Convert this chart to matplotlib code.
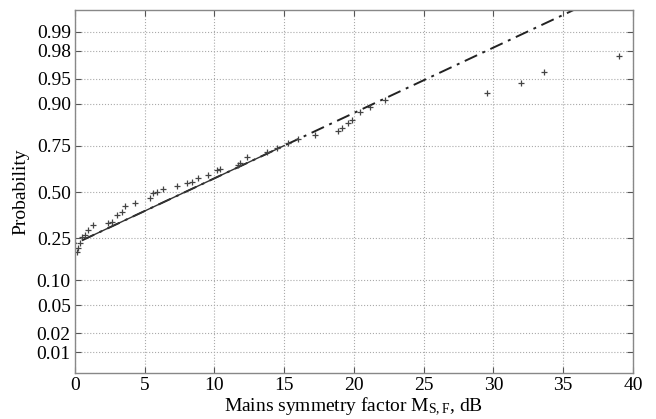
import numpy as np
import matplotlib
matplotlib.use("Agg")
import matplotlib.pyplot as plt
from statistics import NormalDist

plt.rcParams["font.family"] = ["Liberation Serif", "DejaVu Serif"]
plt.rcParams["mathtext.fontset"] = "custom"
plt.rcParams["mathtext.rm"] = "Liberation Serif"
plt.rcParams["mathtext.it"] = "Liberation Serif:italic"

# Data
msf_db = [0.12, 0.24, 0.36, 0.48, 0.72, 0.95, 1.31, 2.39, 2.63, 2.99,
          3.35, 3.58, 4.30, 5.38, 5.61, 5.86, 6.33, 7.29, 8.00, 8.37,
          8.84, 9.56, 10.16, 10.39, 11.70, 11.83, 12.30, 13.74, 14.46, 15.29,
          16.00, 17.20, 18.87, 19.12, 19.60, 19.84, 20.43, 21.15, 22.20, 29.56,
          31.97, 33.60, 39.00]
prob = [0.192, 0.209, 0.230, 0.258, 0.268, 0.291, 0.316, 0.326, 0.334, 0.371,
        0.386, 0.417, 0.436, 0.464, 0.492, 0.500, 0.516, 0.536, 0.552, 0.560,
        0.583, 0.599, 0.626, 0.633, 0.652, 0.663, 0.695, 0.722, 0.739, 0.761,
        0.779, 0.797, 0.811, 0.824, 0.841, 0.853, 0.879, 0.893, 0.910, 0.925,
        0.943, 0.959, 0.976]

# reference line through the quartiles
q1_x, q3_x = 0.8, 15.0

yticks = [0.01, 0.02, 0.05, 0.10, 0.25, 0.50, 0.75, 0.90, 0.95, 0.98, 0.99]
xticks = [0, 5, 10, 15, 20, 25, 30, 35, 40]

nd = NormalDist()
z = np.array([nd.inv_cdf(p) for p in prob])
zq1, zq3 = nd.inv_cdf(0.25), nd.inv_cdf(0.75)
slope = (zq3 - zq1) / (q3_x - q1_x)

fig = plt.figure(figsize=(6.56, 4.19), dpi=100)
ax = fig.add_axes([0.1143, 0.1098, 0.8506, 0.8663])

# extended fit (dash-dot) and solid part between quartiles
xl = np.array([-5, 45])
ax.plot(xl, zq1 + slope * (xl - q1_x), color="#222222", lw=1.4, ls="-.", dashes=(7, 3, 1.5, 3))
ax.plot([q1_x, q3_x], [zq1, zq3], color="#333333", lw=1.0)
ax.plot(msf_db, z, ls="none", marker="+", ms=5, mew=0.9, color="#444444")

ax.set_xlim(0, 40)
ax.set_ylim(-2.63, 2.645)
ax.set_xticks(xticks)
ax.set_yticks([nd.inv_cdf(p) for p in yticks])
ax.set_yticklabels(["%.2f" % p for p in yticks])

ax.grid(True, ls=":", color="#aaaaaa", lw=0.8)
ax.tick_params(direction="in", top=True, right=True, labelsize=14, length=4,
               color="#555555", pad=3)
for s in ax.spines.values():
    s.set_color("#888888")
    s.set_linewidth(1.0)

ax.set_xlabel(r"Mains symmetry factor M$_{\rm S,F}$, dB", fontsize=14, labelpad=1)
ax.set_ylabel("Probability", fontsize=14, labelpad=5)

fig.savefig("out.png", dpi=100)
